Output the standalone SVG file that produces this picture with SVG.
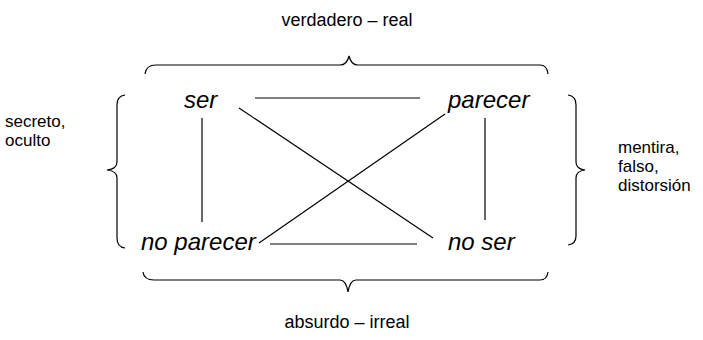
<svg xmlns="http://www.w3.org/2000/svg" width="703" height="340" viewBox="0 0 703 340">
<style>
.t{font-family:"Liberation Sans",Arial,sans-serif;fill:#000;font-size:18px}
.s{font-family:"Liberation Sans",Arial,sans-serif;fill:#000;font-size:17px}
.n{font-family:"Liberation Sans",Arial,sans-serif;fill:#000;font-size:24px;font-style:italic}
.l{stroke:#000;stroke-width:1.2;fill:none}
</style>
<rect width="703" height="340" fill="#fff"/>
<g id="braces">
<path class="l" d="M145,74 Q146,65 156,65 L340,65 Q347,65 349,56 Q351,65 358,65 L540,65 Q547,65 548,74"/>
<path class="l" d="M143,272 Q144,280 154,280 L340,280 Q346,280 348,292 Q350,280 356,280 L540,280 Q547,280 548,272"/>
<path class="l" d="M125,95 Q117,96 117,105 L117,162 Q117,169 107,170 Q117,171 117,178 L117,238 Q117,247 125,248"/>
<path class="l" d="M568,95 Q576,96 576,105 L576,162 Q576,169 585,170 Q576,171 576,178 L576,236 Q576,244 568,245"/>
</g>
<g id="connectors">
<line class="l" x1="255" y1="98" x2="420" y2="98"/>
<line class="l" x1="270" y1="244" x2="417" y2="244"/>
<line class="l" x1="202" y1="118" x2="202" y2="222"/>
<line class="l" x1="485" y1="118" x2="485" y2="220"/>
<line class="l" x1="239" y1="108" x2="433" y2="238"/>
<line class="l" x1="445" y1="114" x2="259" y2="243"/>
</g>
<g id="top-label"><text class="t" x="347" y="26" text-anchor="middle">verdadero – real</text></g>
<g id="bottom-label"><text class="t" x="347" y="328" text-anchor="middle">absurdo – irreal</text></g>
<g id="left-label"><text class="s" x="5" y="127">secreto,</text><text class="s" x="5" y="146">oculto</text></g>
<g id="right-label"><text class="s" x="618" y="153">mentira,</text><text class="s" x="618" y="172">falso,</text><text class="s" x="618" y="191">distorsión</text></g>
<g id="ser"><text class="n" x="184" y="108">ser</text></g>
<g id="parecer"><text class="n" x="448" y="108">parecer</text></g>
<g id="no-parecer"><text class="n" x="141" y="250">no parecer</text></g>
<g id="no-ser"><text class="n" x="448" y="250">no ser</text></g>
</svg>
